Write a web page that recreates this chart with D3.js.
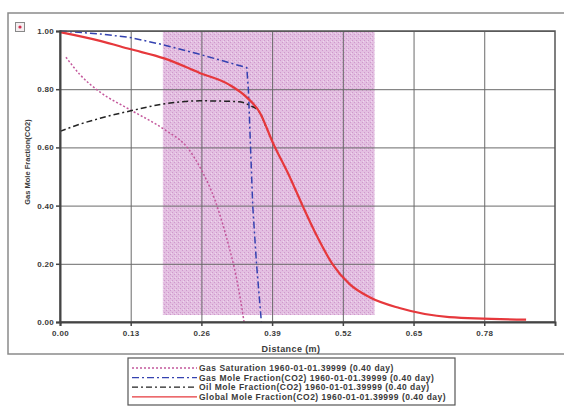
<!DOCTYPE html>
<html>
<head>
<meta charset="utf-8">
<script src="https://cdn.jsdelivr.net/npm/d3@7"></script>
<style>
  body { margin: 0; background: #fff; }
  svg { display: block; }
  text { font-family: "Liberation Sans", Arial, sans-serif; font-weight: bold; fill: #3a3a3a; }
</style>
</head>
<body>
<svg width="564" height="415"></svg>
<script>
// tick values (distance axis has 7 equal steps over 0.9144 m)
const xTicks = [0, 0.1306, 0.2612, 0.3918, 0.5225, 0.6531, 0.7837];
const yTicks = [0, 0.2, 0.4, 0.6, 0.8, 1.0];

// shaded zone in data units [x0, x1, y0, y1]
const zone = [0.19, 0.581, 0.024, 1.0];

// series
const gasSatX = [0.011, 0.037, 0.074, 0.129, 0.194, 0.235, 0.262, 0.286, 0.300, 0.312, 0.325, 0.334, 0.340];
const gasSatY = [0.91, 0.85, 0.79, 0.73, 0.66, 0.60, 0.52, 0.42, 0.34, 0.26, 0.16, 0.07, 0.0];

const gasMoleX = [0, 0.074, 0.129, 0.185, 0.258, 0.345, 0.348, 0.352, 0.356, 0.363, 0.372];
const gasMoleY = [1.0, 0.99, 0.978, 0.955, 0.92, 0.874, 0.80, 0.60, 0.40, 0.20, 0.0];

const oilMoleX = [0, 0.037, 0.074, 0.129, 0.194, 0.258, 0.330, 0.350, 0.369, 0.380];
const oilMoleY = [0.655, 0.68, 0.70, 0.725, 0.75, 0.76, 0.757, 0.745, 0.72, 0.67];

const globalX = [0, 0.074, 0.129, 0.194, 0.258, 0.313, 0.345, 0.369, 0.393, 0.424, 0.448, 0.476, 0.503, 0.535, 0.572, 0.627, 0.719, 0.861];
const globalY = [0.996, 0.966, 0.938, 0.905, 0.856, 0.815, 0.772, 0.72, 0.617, 0.50, 0.40, 0.29, 0.20, 0.13, 0.085, 0.048, 0.017, 0.008];

const legendLabels = [
  "Gas Saturation 1960-01-01.39999 (0.40 day)",
  "Gas Mole Fraction(CO2) 1960-01-01.39999 (0.40 day)",
  "Oil Mole Fraction(CO2) 1960-01-01.39999 (0.40 day)",
  "Global Mole Fraction(CO2) 1960-01-01.39999 (0.40 day)"
];

const series = [
  { xs: gasSatX, ys: gasSatY, color: "#c4589c", width: 1.5, dash: "2,2" },
  { xs: gasMoleX, ys: gasMoleY, color: "#3442b0", width: 1.5, dash: "7,3,2,3" },
  { xs: oilMoleX, ys: oilMoleY, color: "#222", width: 1.5, dash: "6,3,2,3" },
  { xs: globalX, ys: globalY, color: "#e6383c", width: 2.2, dash: null }
];

const svg = d3.select("svg");

// stipple pattern for the shaded zone
const pat = svg.append("defs").append("pattern")
  .attr("id", "stip").attr("width", 4).attr("height", 4)
  .attr("patternUnits", "userSpaceOnUse");
pat.append("rect").attr("width", 4).attr("height", 4).attr("fill", "#e3bfe1");
pat.append("rect").attr("x", 0).attr("y", 0).attr("width", 1).attr("height", 1).attr("fill", "#cf98cc");
pat.append("rect").attr("x", 2).attr("y", 2).attr("width", 1).attr("height", 1).attr("fill", "#cf98cc");
pat.append("rect").attr("x", 3).attr("y", 1).attr("width", 1).attr("height", 1).attr("fill", "#efd8ee");

// outer frame
svg.append("rect")
  .attr("x", 8).attr("y", 13).attr("width", 570).attr("height", 341)
  .attr("fill", "none").attr("stroke", "#8a8a8a").attr("stroke-width", 1.5);

// little icon top-left
svg.append("rect")
  .attr("x", 15.5).attr("y", 22.5).attr("width", 9).attr("height", 9)
  .attr("fill", "#f4eef0").attr("stroke", "#888");
svg.append("circle").attr("cx", 20).attr("cy", 27).attr("r", 1.6).attr("fill", "#d23050");

const x = d3.scaleLinear().domain([0, 0.9144]).range([60, 555]);
const y = d3.scaleLinear().domain([0, 1]).range([322, 31]);

// shaded zone
svg.append("rect")
  .attr("x", x(zone[0])).attr("y", y(zone[3]))
  .attr("width", x(zone[1]) - x(zone[0]))
  .attr("height", y(zone[2]) - y(zone[3]))
  .attr("fill", "url(#stip)");

// grid
svg.append("g")
  .attr("transform", `translate(0, ${y(0)})`)
  .call(d3.axisBottom(x).tickValues(xTicks).tickSize(-(y(0) - y(1))).tickFormat(""))
  .call(g => g.select(".domain").remove())
  .selectAll("line").attr("stroke", "#6a6a6a").attr("stroke-width", 1);

svg.append("g")
  .attr("transform", `translate(${x(0)}, 0)`)
  .call(d3.axisLeft(y).tickValues(yTicks).tickSize(-(x(0.9144) - x(0))).tickFormat(""))
  .call(g => g.select(".domain").remove())
  .selectAll("line").attr("stroke", "#6a6a6a").attr("stroke-width", 1);

// curves
const line = d3.line().curve(d3.curveMonotoneX);
const lineLinear = d3.line();
series.forEach((s, i) => {
  const pts = s.xs.map((v, j) => [x(v), y(s.ys[j])]);
  svg.append("path")
    .attr("d", (i === 1 ? lineLinear : line)(pts))
    .attr("fill", "none")
    .attr("stroke", s.color)
    .attr("stroke-width", s.width)
    .attr("stroke-dasharray", s.dash);
});

// plot box
svg.append("rect")
  .attr("x", x(0)).attr("y", y(1))
  .attr("width", x(0.9144) - x(0)).attr("height", y(0) - y(1))
  .attr("fill", "none").attr("stroke", "#555").attr("stroke-width", 1.5);

// axes
const xAxis = svg.append("g")
  .attr("transform", `translate(0, ${y(0)})`)
  .call(d3.axisBottom(x).tickValues(xTicks).tickSize(4).tickFormat(d3.format(".2f")));
const yAxis = svg.append("g")
  .attr("transform", `translate(${x(0)}, 0)`)
  .call(d3.axisLeft(y).tickValues(yTicks).tickSize(4).tickFormat(d3.format(".2f")));
[xAxis, yAxis].forEach(a => {
  a.select(".domain").attr("stroke", "#444").attr("stroke-width", 2);
  a.selectAll(".tick line").attr("stroke", "#444").attr("stroke-width", 1.5);
  a.selectAll(".tick text").style("font-size", "8px").attr("fill", "#3a3a3a")
    .style("letter-spacing", "0.3px")
    .style("font-family", "Liberation Sans, Arial, sans-serif").style("font-weight", "bold");
});
xAxis.selectAll(".tick text").attr("dy", "0.85em");
yAxis.selectAll(".tick text").attr("x", -6);

// axis titles
svg.append("text")
  .attr("x", 291).attr("y", 352)
  .attr("text-anchor", "middle").style("font-size", "9px").style("letter-spacing", "0.4px")
  .text("Distance (m)");
svg.append("text")
  .attr("transform", "translate(30, 162) rotate(-90)")
  .attr("text-anchor", "middle").style("font-size", "7.5px")
  .text("Gas Mole Fraction(CO2)");

// legend
const lg = svg.append("g");
lg.append("rect")
  .attr("x", 128).attr("y", 358).attr("width", 327).attr("height", 47)
  .attr("fill", "#fff").attr("stroke", "#555").attr("stroke-width", 1.2);
legendLabels.forEach((lab, i) => {
  const yy = 368 + i * 9.6;
  lg.append("line")
    .attr("x1", 132).attr("x2", 197).attr("y1", yy).attr("y2", yy)
    .attr("stroke", series[i].color).attr("stroke-width", 1.3)
    .attr("stroke-dasharray", series[i].dash);
  lg.append("text")
    .attr("x", 199).attr("y", yy + 3)
    .style("font-size", "8.5px").style("letter-spacing", "0.5px")
    .text(lab);
});
</script>
</body>
</html>
